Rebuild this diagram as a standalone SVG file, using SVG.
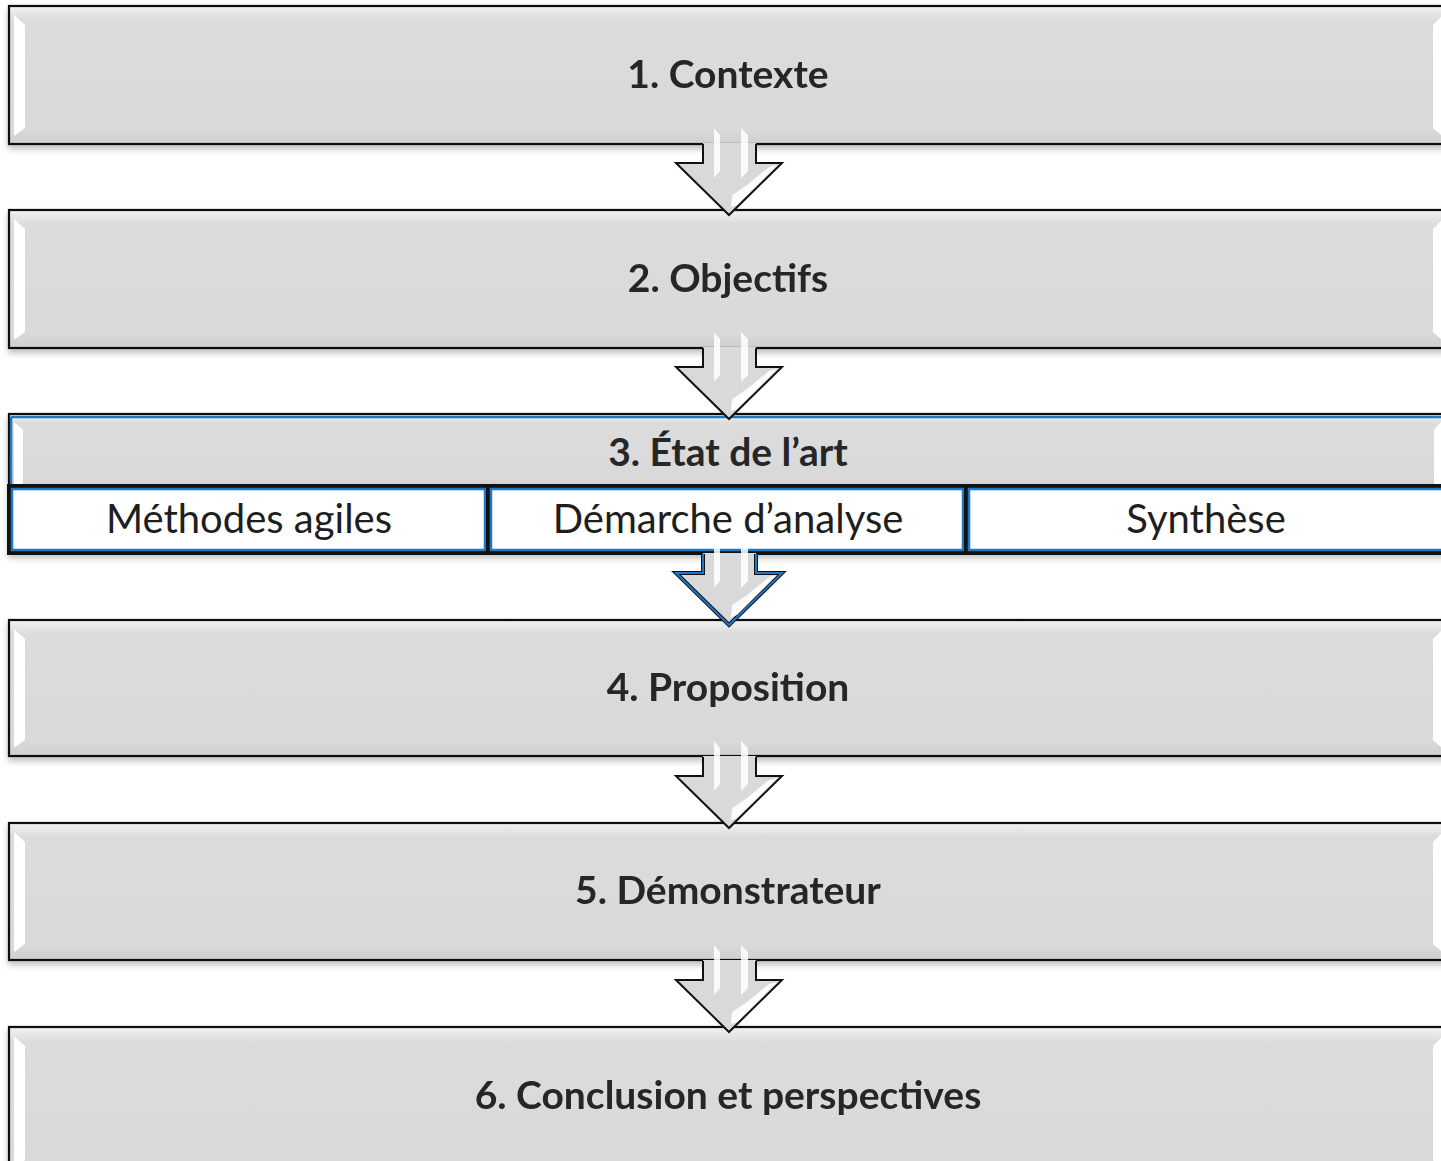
<svg xmlns="http://www.w3.org/2000/svg" width="1441" height="1161" viewBox="0 0 1441 1161">
  <style>
    .box { fill: url(#boxGrad); stroke: #111; stroke-width: 2.2; }
    .bevel { fill: #ffffff; }
    .title { font-family: Lato, "Open Sans", sans-serif; font-weight: bold; font-size: 39px; fill: #262626; text-anchor: middle; }
    .sub { font-family: Lato, "Open Sans", sans-serif; font-size: 40px; fill: #1e1e1e; text-anchor: middle; }
    .subbox { fill: #ffffff; stroke: #111; stroke-width: 4; }
    .blue { fill: none; stroke: #1f77c6; stroke-width: 2.5; }
    .arrow { fill: #d9d9d9; stroke: #111; stroke-width: 2; stroke-linejoin: miter; }
    .stripe { fill: #ffffff; opacity: 0.85; }
  </style>
  <defs>
    <linearGradient id="boxGrad" x1="0" y1="0" x2="0" y2="1">
      <stop offset="0" stop-color="#f2f2f2"/>
      <stop offset="0.1" stop-color="#dcdcdc"/>
      <stop offset="0.9" stop-color="#d9d9d9"/>
      <stop offset="1" stop-color="#cfcfcf"/>
    </linearGradient>
    <linearGradient id="glare" x1="0" y1="0" x2="1" y2="1">
      <stop offset="0" stop-color="#ffffff" stop-opacity="0.2"/>
      <stop offset="0.5" stop-color="#ffffff" stop-opacity="1"/>
      <stop offset="1" stop-color="#ffffff" stop-opacity="0.3"/>
    </linearGradient>
    <filter id="shadow" x="-5%" y="-20%" width="110%" height="150%">
      <feDropShadow dx="0" dy="4" stdDeviation="3" flood-color="#000" flood-opacity="0.25"/>
    </filter>
    <g id="arrowShape">
      <path d="M-26,-71 V-52 H-53 L0,0 L53,-52 H27 V-71"/>
    </g>
    <g id="arrowDeco">
      <polygon class="stripe" points="-15,-87 -9,-80 -9,-44 -15,-37"/>
      <polygon class="stripe" points="12,-87 19,-80 19,-44 12,-37"/>
      <polygon points="40,-48 48,-50 8,-10 2,-8 3,-20 18,-30" fill="url(#glare)"/>
    </g>
  </defs>

  <!-- Node 1 -->
  <g id="node1" filter="url(#shadow)">
    <rect class="box" x="9" y="6" width="1450" height="138"/>
    <polygon class="bevel" points="14,15 25,25 25,128 14,136"/>
    <polygon class="bevel" points="1433,25 1441,17 1441,135 1433,128"/>
    <text class="title" x="728" y="88">1. Contexte</text>
  </g>

  <!-- Node 2 -->
  <g id="node2" filter="url(#shadow)">
    <rect class="box" x="9" y="210" width="1450" height="138"/>
    <polygon class="bevel" points="14,219 25,229 25,332 14,340"/>
    <polygon class="bevel" points="1433,229 1441,221 1441,339 1433,332"/>
    <text class="title" x="728" y="292">2. Objectifs</text>
  </g>

  <!-- Node 3 -->
  <g id="node3">
    <g filter="url(#shadow)">
      <rect class="box" x="9" y="414" width="1450" height="139" stroke-width="4"/>
    </g>
    <rect x="11" y="416" width="1450" height="70" fill="url(#boxGrad)"/>
    <polygon class="bevel" points="14,422 23,430 23,484 14,486"/>
    <polygon class="bevel" points="1434,430 1441,422 1441,486 1434,484"/>
    <line class="blue" x1="11" y1="417" x2="1441" y2="417"/>
    <line class="blue" x1="11" y1="417" x2="11" y2="486"/>
    <text class="title" x="728" y="466">3. État de l’art</text>
    <g id="node3a">
      <rect class="subbox" x="9" y="486" width="479" height="67"/>
      <rect class="blue" x="12" y="489" width="473" height="61"/>
      <text class="sub" x="249" y="533">Méthodes agiles</text>
    </g>
    <g id="node3b">
      <rect class="subbox" x="488" y="486" width="478" height="67"/>
      <rect class="blue" x="491" y="489" width="472" height="61"/>
      <text class="sub" x="728" y="533">Démarche d’analyse</text>
    </g>
    <g id="node3c">
      <rect class="subbox" x="966" y="486" width="490" height="67"/>
      <rect class="blue" x="969" y="489" width="490" height="61"/>
      <text class="sub" x="1206" y="533">Synthèse</text>
    </g>
  </g>

  <!-- Node 4 -->
  <g id="node4" filter="url(#shadow)">
    <rect class="box" x="9" y="620" width="1450" height="136"/>
    <polygon class="bevel" points="14,629 25,639 25,740 14,748"/>
    <polygon class="bevel" points="1433,639 1441,631 1441,747 1433,740"/>
    <text class="title" x="728" y="701">4. Proposition</text>
  </g>

  <!-- Node 5 -->
  <g id="node5" filter="url(#shadow)">
    <rect class="box" x="9" y="823" width="1450" height="137"/>
    <polygon class="bevel" points="14,832 25,842 25,944 14,952"/>
    <polygon class="bevel" points="1433,842 1441,834 1441,951 1433,944"/>
    <text class="title" x="728" y="904">5. Démonstrateur</text>
  </g>

  <!-- Node 6 -->
  <g id="node6" filter="url(#shadow)">
    <rect class="box" x="9" y="1027" width="1450" height="150"/>
    <polygon class="bevel" points="14,1036 25,1046 25,1160 14,1170"/>
    <polygon class="bevel" points="1433,1046 1441,1038 1441,1170 1433,1160"/>
    <text class="title" x="728" y="1109">6. Conclusion et perspectives</text>
  </g>

  <!-- Connectors -->
  <g id="connectors">
    <g transform="translate(729,215)">
      <rect x="-26" y="-72" width="53" height="22" fill="#d9d9d9"/>
      <use href="#arrowShape" class="arrow"/>
      <use href="#arrowDeco"/>
    </g>
    <g transform="translate(729,419)">
      <rect x="-26" y="-72" width="53" height="22" fill="#d9d9d9"/>
      <use href="#arrowShape" class="arrow"/>
      <use href="#arrowDeco"/>
    </g>
    <g transform="translate(729,625)">
      <rect x="-26" y="-72" width="53" height="22" fill="#d9d9d9"/>
      <use href="#arrowShape" class="arrow" style="stroke:#111;stroke-width:4"/>
      <use href="#arrowShape" class="arrow" style="stroke:#1f77c6;stroke-width:2;fill:none"/>
      <use href="#arrowDeco"/>
    </g>
    <g transform="translate(729,828)">
      <rect x="-26" y="-72" width="53" height="22" fill="#d9d9d9"/>
      <use href="#arrowShape" class="arrow"/>
      <use href="#arrowDeco"/>
    </g>
    <g transform="translate(729,1032)">
      <rect x="-26" y="-72" width="53" height="22" fill="#d9d9d9"/>
      <use href="#arrowShape" class="arrow"/>
      <use href="#arrowDeco"/>
    </g>
  </g>
</svg>
